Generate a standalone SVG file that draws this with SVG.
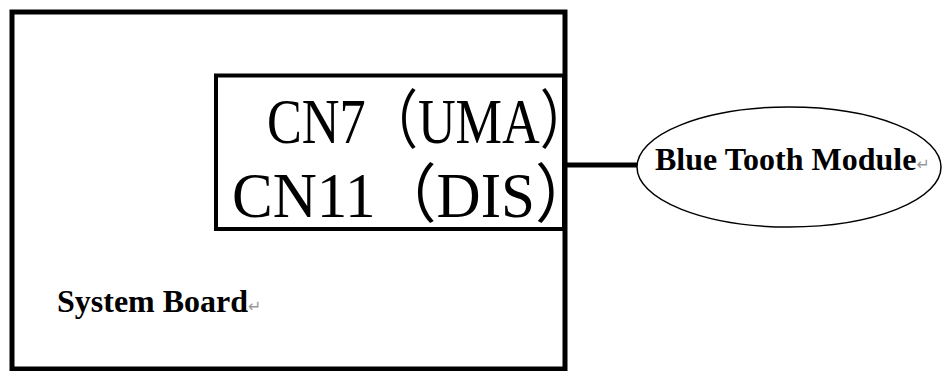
<svg xmlns="http://www.w3.org/2000/svg" width="942" height="371" viewBox="0 0 942 371">
<style>
.box{fill:none;stroke:#000}
.lbl{font-family:"Liberation Serif","Times New Roman",serif;font-weight:bold;font-size:32px;fill:#000}
.pm{font-family:"DejaVu Sans",sans-serif;font-weight:normal;font-size:16px;fill:#999}
.cn{font-family:"Liberation Serif","Noto Sans CJK SC",serif;font-size:64px;fill:#000}
</style>
<rect width="942" height="371" fill="#fff"/>
<g id="system-board">
<rect class="box" x="12" y="12" width="553" height="357" stroke-width="5"/>
<text class="lbl" x="57" y="312">System Board<tspan class="pm">↵</tspan></text>
</g>
<g id="connector-cn">
<rect class="box" x="216" y="75.5" width="348" height="153.5" stroke-width="4"/>
<text class="cn" x="267" y="143" textLength="325" lengthAdjust="spacingAndGlyphs">CN7（UMA）</text>
<text class="cn" x="232" y="217" textLength="364" lengthAdjust="spacingAndGlyphs">CN11（DIS）</text>
</g>
<g id="bluetooth-module">
<ellipse class="box" cx="789" cy="167" rx="152" ry="60" stroke-width="1.5"/>
<text class="lbl" x="655" y="170">Blue Tooth Module<tspan class="pm">↵</tspan></text>
</g>
<g id="connectors">
<line x1="565" y1="165" x2="637" y2="165" stroke="#000" stroke-width="5"/>
</g>
</svg>
